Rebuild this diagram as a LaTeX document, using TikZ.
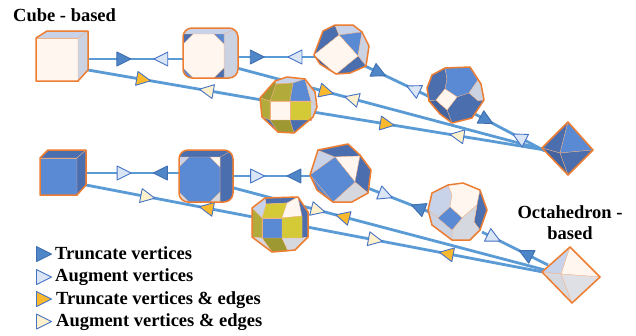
\documentclass[tikz,border=0pt]{standalone}
\usepackage{fontspec}
\setmainfont{Liberation Serif}
\usetikzlibrary{calc}
% palette
\definecolor{rimor}{HTML}{ED7D31}
\definecolor{linkc}{HTML}{5B9BD5}
\definecolor{cream}{HTML}{FFF6F0}
\definecolor{lgreyA}{HTML}{C8D2E8}
\definecolor{lgreyB}{HTML}{CBD2E2}
\definecolor{lgrey2}{HTML}{D6D8E0}
\definecolor{mblue}{HTML}{5A8AD4}
\definecolor{dblue}{HTML}{4A6EAE}
\definecolor{ddblue}{HTML}{42639F}
\definecolor{yel}{HTML}{D4CA38}
\definecolor{olv}{HTML}{B2AB3C}
\definecolor{olvd}{HTML}{9E9833}
\definecolor{mkdark}{HTML}{4E86C8}
\definecolor{mkdarkline}{HTML}{3F6FB0}
\definecolor{mklight}{HTML}{DAE6F6}
\definecolor{mkorange}{HTML}{FBBA2E}
\definecolor{mkcream}{HTML}{FFF1CC}
\definecolor{mkline}{HTML}{4472C4}
\begin{document}
\begin{tikzpicture}[x=1pt,y=-1pt,
  link/.style={draw=linkc, line width=2.8pt},
  poly/.style={inner sep=0pt, outer sep=0pt},
  fc/.style={fill=#1, draw=rimor!60, line width=0.3pt, line join=round},
  rim/.style={draw=rimor, line width=1.5pt, line join=round},
  lbl/.style={font=\fontsize{18.5}{21}\selectfont\bfseries, inner sep=0pt},
  tdk/.style={fill=mkdark, draw=mkdarkline, line width=0.9pt, line join=round},
  tlt/.style={fill=mklight, draw=mkline, line width=0.9pt, line join=round},
  tor/.style={fill=mkorange, draw=mkline, line width=0.9pt, line join=round},
  tcr/.style={fill=mkcream, draw=mkline, line width=0.9pt, line join=round},
  fwd/.pic={\path[pic actions] (7,0) -- (-7,7) -- (-7,-7) -- cycle;},
  bwd/.pic={\path[pic actions] (-7,0) -- (7,7) -- (7,-7) -- cycle;},
  legtri/.pic={\path[pic actions] (7.5,0) -- (-7.5,7.5) -- (-7.5,-7.5) -- cycle;},
]
\useasboundingbox (0,0) rectangle (636,335);
\fill[white] (0,0) rectangle (636,335);

% anchor nodes of the solids
\node[poly, minimum width=52pt, minimum height=50pt] (cubeA) at (62,56) {};
\node[poly, minimum width=55pt, minimum height=50pt] (tcA)   at (210,53) {};
\node[poly, minimum width=55pt, minimum height=49pt] (cuboA) at (341,49) {};
\node[poly, minimum width=57pt, minimum height=56pt] (toA)   at (455,95) {};
\node[poly, minimum width=51pt, minimum height=53pt] (octA)  at (567,148) {};
\node[poly, minimum width=57pt, minimum height=56pt] (rhomA) at (288,105) {};
\node[poly, minimum width=46pt, minimum height=45pt] (cubeB) at (63,172) {};
\node[poly, minimum width=54pt, minimum height=52pt] (tcB)   at (206,176) {};
\node[poly, minimum width=62pt, minimum height=58pt] (cuboB) at (341,173) {};
\node[poly, minimum width=58pt, minimum height=57pt] (toB)   at (459,211) {};
\node[poly, minimum width=58pt, minimum height=56pt] (octB)  at (571,275) {};
\node[poly, minimum width=56pt, minimum height=55pt] (rhomB) at (280,225) {};

% ---------- connectors, cube-based row ----------
\draw[link] ($(cubeA)+(26,3)$) -- ($(tcA)+(-27,6)$)
  pic[pos=.377, sloped, tdk] {fwd} pic[pos=.766, sloped, tlt] {bwd};
\draw[link] ($(tcA)+(28,4)$) -- ($(cuboA)+(-26,8)$)
  pic[pos=.25, sloped, tdk] {fwd} pic[pos=.74, sloped, tlt] {bwd};
\draw[link] ($(cubeA)+(26,14)$) -- ($(rhomA)+(-26,-5)$)
  pic[pos=.32, sloped, tor] {fwd} pic[pos=.68, sloped, tcr] {bwd};
\draw[link] ($(rhomA)+(25,7)$) -- ($(octA)+(-22,2)$)
  pic[pos=.32, sloped, tor] {fwd} pic[pos=.62, sloped, tcr] {bwd};
\draw[link] ($(tcA)+(23,14)$) -- ($(octA)+(-22,2)$)
  pic[pos=.30, sloped, tor] {fwd} pic[pos=.38, sloped, tcr] {bwd};
\draw[link] ($(cuboA)+(24,17)$) -- ($(toA)+(-25,2)$)
  pic[pos=.22, sloped, tdk] {fwd} pic[pos=.74, sloped, tlt] {bwd};
\draw[link] ($(toA)+(18,18)$) -- ($(octA)+(-22,3)$)
  pic[pos=.19, sloped, tdk] {fwd} pic[pos=.64, sloped, tlt] {bwd};

% ---------- connectors, octahedron-based row ----------
\draw[link] ($(cubeB)+(23,1)$) -- ($(tcB)+(-27,-3)$)
  pic[pos=.41, sloped, tlt] {fwd} pic[pos=.80, sloped, tdk] {bwd};
\draw[link] ($(tcB)+(27,0)$) -- ($(cuboB)+(-31,3)$)
  pic[pos=.32, sloped, tlt] {fwd} pic[pos=.79, sloped, tdk] {bwd};
\draw[link] ($(cubeB)+(23,13)$) -- ($(rhomB)+(-27,-8)$)
  pic[pos=.37, sloped, tcr] {fwd} pic[pos=.72, sloped, tor] {bwd};
\draw[link] ($(rhomB)+(27,2)$) -- ($(octB)+(-28,-3)$)
  pic[pos=.29, sloped, tcr] {fwd} pic[pos=.59, sloped, tor] {bwd};
\draw[link] ($(tcB)+(24,11)$) -- ($(octB)+(-26,-5)$)
  pic[pos=.28, sloped, tcr] {fwd} pic[pos=.357, sloped, tor] {bwd};
\draw[link] ($(cuboB)+(24,14)$) -- ($(toB)+(-27,2)$)
  pic[pos=.31, sloped, tlt] {fwd} pic[pos=.79, sloped, tdk] {bwd};
\draw[link] ($(toB)+(23,21)$) -- ($(octB)+(-23,-10)$)
  pic[pos=.18, sloped, tlt] {fwd} pic[pos=.66, sloped, tdk] {bwd};

% ---------- solids ----------
% cube (light)
\path[fc=cream] (36,38) -- (78,38) -- (78,81) -- (36,81) -- cycle;
\path[fc=lgreyA] (36,38) -- (47,31) -- (88,31) -- (78,38) -- cycle;
\path[fc=lgreyB] (78,38) -- (88,31) -- (88,70) -- (78,81) -- cycle;
\draw[rim] (36,38) -- (47,31) -- (88,31) -- (88,70) -- (78,81) -- (36,81) -- cycle;

% cube (blue)
\path[fc=mblue] (40,158) -- (77,158) -- (77,195) -- (40,195) -- cycle;
\path[fc=dblue] (40,158) -- (48,150) -- (86,150) -- (77,158) -- cycle;
\path[fc=dblue] (77,158) -- (86,150) -- (86,185) -- (77,195) -- cycle;
\draw[rim] (40,158) -- (48,150) -- (86,150) -- (86,185) -- (77,195) -- (40,195) -- cycle;

% truncated cube (light)
\begin{scope}
  \clip[rounded corners=9pt] (183,28) rectangle (238,78);
  \fill[lgreyA] (183,28) rectangle (238,78);
  \path[fc=lgreyB] (224,34) -- (238,28) -- (238,78) -- (224,78) -- cycle;
  \path[fc=cream] (193,34) -- (214,34) -- (224,44) -- (224,68) -- (214,78)
    -- (193,78) -- (183,68) -- (183,44) -- cycle;
  \path[fc=dblue] (183,34) -- (193,34) -- (183,44) -- cycle;
  \path[fc=mblue] (214,34) -- (224,34) -- (224,44) -- cycle;
  \path[fc=mblue] (183,68) -- (193,78) -- (183,78) -- cycle;
  \path[fc=dblue] (214,78) -- (224,78) -- (224,68) -- cycle;
\end{scope}
\draw[rim, rounded corners=9pt] (183,28) rectangle (238,78);

% truncated cube (blue)
\begin{scope}
  \clip[rounded corners=9pt] (179,150) rectangle (233,202);
  \fill[dblue] (179,150) rectangle (233,202);
  \path[fc=dblue] (220,157) -- (233,150) -- (233,202) -- (220,202) -- cycle;
  \path[fc=mblue] (189,157) -- (210,157) -- (220,167) -- (220,192) -- (210,202)
    -- (189,202) -- (179,192) -- (179,167) -- cycle;
  \path[fc=lgreyA] (179,157) -- (189,157) -- (179,167) -- cycle;
  \path[fc=cream] (210,157) -- (220,157) -- (220,167) -- cycle;
  \path[fc=lgrey2] (179,192) -- (189,202) -- (179,202) -- cycle;
  \path[fc=lgrey2] (210,202) -- (220,202) -- (220,192) -- cycle;
\end{scope}
\draw[rim, rounded corners=9pt] (179,150) rectangle (233,202);

% cuboctahedron (light)
\path[fc=dblue] (323,31) -- (335,25) -- (339,35) -- (314,55) -- cycle;
\path[fc=lgreyA] (335,25) -- (353,25) -- (362,32) -- (339,35) -- cycle;
\path[fc=mblue] (339,35) -- (362,32) -- (358,56) -- cycle;
\path[fc=lgreyB] (362,32) -- (369,46) -- (366,66) -- (358,56) -- cycle;
\path[fc=dblue] (358,56) -- (366,66) -- (350,73) -- (336,74) -- cycle;
\path[fc=ddblue] (314,55) -- (336,74) -- (320,64) -- cycle;
\path[fc=cream] (339,35) -- (358,56) -- (336,74) -- (314,55) -- cycle;
\draw[rim] (323,31) -- (335,25) -- (353,25) -- (362,32) -- (369,46) -- (366,66)
  -- (350,73) -- (336,74) -- (320,64) -- (314,55) -- cycle;

% cuboctahedron (blue)
\path[fc=lgreyA] (318,150) -- (335,157) -- (310,175) -- cycle;
\path[fc=dblue] (318,150) -- (348,144) -- (360,156) -- (335,157) -- cycle;
\path[fc=cream] (335,157) -- (360,156) -- (355,182) -- cycle;
\path[fc=dblue] (360,156) -- (371,170) -- (368,193) -- (355,182) -- cycle;
\path[fc=lgrey2] (355,182) -- (368,193) -- (352,202) -- (333,202) -- cycle;
\path[fc=mblue] (310,175) -- (333,202) -- (317,190) -- cycle;
\path[fc=mblue] (335,157) -- (355,182) -- (333,202) -- (310,175) -- cycle;
\draw[rim] (318,150) -- (348,144) -- (360,155) -- (371,170) -- (368,193) -- (352,202)
  -- (333,202) -- (317,190) -- (310,175) -- cycle;

% truncated octahedron (blue)
\path[fc=dblue] (432,75) -- (445,68) -- (447,79) -- (445,89) -- (436,100) -- (429,101) -- (427,88) -- cycle;
\path[fc=mblue] (445,68) -- (470,67) -- (478,80) -- (469,93) -- (457,97) -- (445,89) -- (447,79) -- cycle;
\path[fc=lgreyB] (470,67) -- (481,84) -- (484,100) -- (478,101) -- (469,93) -- (478,80) -- cycle;
\path[fc=dblue] (457,97) -- (469,93) -- (478,101) -- (484,100) -- (472,118) -- (452,123) -- (447,110) -- cycle;
\path[fc=ddblue] (436,100) -- (447,110) -- (452,123) -- (440,114) -- (429,101) -- cycle;
\path[fc=cream] (445,89) -- (457,97) -- (447,110) -- (436,100) -- cycle;
\draw[rim] (432,75) -- (445,68) -- (470,67) -- (481,84) -- (484,100) -- (472,118)
  -- (452,123) -- (440,114) -- (429,101) -- (427,88) -- cycle;

% truncated octahedron (light)
\path[fc=lgreyA] (432,193) -- (448,185) -- (452,195) -- (450,207) -- (438,218) -- (428,210) -- cycle;
\path[fc=cream] (448,185) -- (463,183) -- (480,190) -- (477,205) -- (462,218) -- (450,207) -- (452,195) -- cycle;
\path[fc=dblue] (480,190) -- (487,210) -- (480,230) -- (474,222) -- (477,205) -- cycle;
\path[fc=lgrey2] (462,218) -- (477,205) -- (474,222) -- (480,230) -- (470,240) -- (452,240) -- (452,230) -- cycle;
\path[fc=lgreyB] (438,218) -- (452,230) -- (452,240) -- (432,225) -- (428,210) -- cycle;
\path[fc=mblue] (450,207) -- (462,218) -- (452,230) -- (438,218) -- cycle;
\draw[rim] (432,193) -- (448,185) -- (463,183) -- (480,190) -- (487,210) -- (480,230)
  -- (470,240) -- (452,240) -- (432,225) -- (428,210) -- cycle;

% octahedron (blue)
\path[fc=dblue] (568,122) -- (542,148) -- (560,153) -- cycle;
\path[fc=mblue] (568,122) -- (560,153) -- (593,150) -- cycle;
\path[fc=ddblue] (542,148) -- (560,153) -- (568,175) -- cycle;
\path[fc=dblue] (560,153) -- (593,150) -- (568,175) -- cycle;
\draw[rim] (568,122) -- (593,150) -- (568,175) -- (542,148) -- cycle;

% octahedron (light)
\path[fc=lgreyA] (570,247) -- (542,272) -- (561,274) -- cycle;
\path[fc=cream] (570,247) -- (561,274) -- (600,277) -- cycle;
\path[fc=lgrey2] (542,272) -- (561,274) -- (572,303) -- cycle;
\path[fc=lgrey2!80!white] (561,274) -- (600,277) -- (572,303) -- cycle;
\draw[rim] (570,247) -- (600,277) -- (572,303) -- (542,272) -- cycle;

% rhombicuboctahedron (cube-based)
\path[fc=lgreyA] (275,81) -- (287,77) -- (305,79) -- (293,83) -- (276,84) -- cycle;
\path[fc=olv] (276,84) -- (293,83) -- (290,101) -- (270,101) -- cycle;
\path[fc=olvd] (260,98) -- (275,81) -- (276,84) -- (270,101) -- cycle;
\path[fc=mblue] (293,83) -- (305,79) -- (311,101) -- (290,101) -- cycle;
\path[fc=lgreyB] (305,79) -- (315,92) -- (317,107) -- (311,101) -- cycle;
\path[fc=cream] (270,101) -- (290,101) -- (290,120) -- (270,120) -- cycle;
\path[fc=yel] (290,101) -- (311,101) -- (311,120) -- (290,120) -- cycle;
\path[fc=lgreyB] (311,101) -- (317,107) -- (313,117) -- (311,120) -- cycle;
\path[fc=olv] (260,98) -- (270,101) -- (270,120) -- (262,117) -- cycle;
\path[fc=olvd] (270,120) -- (290,120) -- (294,133) -- (278,132) -- cycle;
\path[fc=dblue] (262,117) -- (270,120) -- (278,132) -- cycle;
\path[fc=dblue] (290,120) -- (311,120) -- (313,117) -- (294,133) -- cycle;
\draw[rim] (260,98) -- (275,81) -- (287,77) -- (305,79) -- (315,92) -- (317,107)
  -- (313,117) -- (294,133) -- (278,132) -- (262,117) -- cycle;

% rhombicuboctahedron (octahedron-based)
\path[fc=dblue] (265,198) -- (298,197) -- (287,203) -- (266,204) -- cycle;
\path[fc=yel] (266,204) -- (287,203) -- (282,218) -- (262,218) -- cycle;
\path[fc=lgreyA] (252,208) -- (265,198) -- (266,204) -- (262,218) -- cycle;
\path[fc=cream] (287,203) -- (298,197) -- (302,216) -- (282,218) -- cycle;
\path[fc=dblue] (298,197) -- (308,212) -- (308,237) -- (302,238) -- (302,216) -- cycle;
\path[fc=mblue] (262,218) -- (282,218) -- (282,238) -- (262,238) -- cycle;
\path[fc=yel] (282,218) -- (302,216) -- (302,238) -- (282,238) -- cycle;
\path[fc=olv] (252,208) -- (262,218) -- (262,238) -- (252,237) -- cycle;
\path[fc=olvd] (262,238) -- (282,238) -- (288,251) -- (272,252) -- cycle;
\path[fc=lgrey2] (252,237) -- (262,238) -- (272,252) -- cycle;
\path[fc=lgrey2] (282,238) -- (302,238) -- (308,237) -- (295,250) -- (288,251) -- cycle;
\draw[rim] (252,208) -- (265,198) -- (298,197) -- (308,212) -- (308,237) -- (295,250)
  -- (272,252) -- (252,237) -- cycle;

% ---------- labels ----------
\node[lbl, anchor=base west] (capA) at (13,21) {Cube - based};
\node[lbl, anchor=base] (capB1) at (570,218) {Octahedron -};
\node[lbl, anchor=base] (capB2) at (570,239) {based};

% ---------- legend ----------
\pic[tdk] at (44,254) {legtri};
\pic[tlt] at (44,277) {legtri};
\pic[tor] at (44,299) {legtri};
\pic[tcr] at (44,321.5) {legtri};
\node[lbl, anchor=base west] (leg1) at (55,259.5) {Truncate vertices};
\node[lbl, anchor=base west] (leg2) at (55,281.5) {Augment vertices};
\node[lbl, anchor=base west] (leg3) at (56,304) {Truncate vertices \& edges};
\node[lbl, anchor=base west] (leg4) at (56,326) {Augment vertices \& edges};
\end{tikzpicture}
\end{document}
